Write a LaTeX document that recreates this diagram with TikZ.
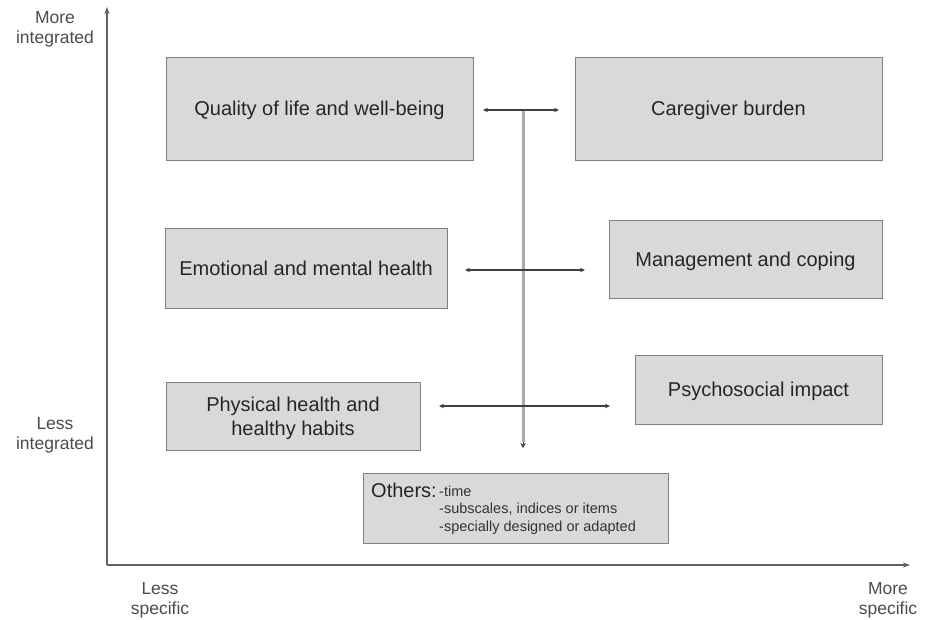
\documentclass[tikz,border=0pt]{standalone}
\usepackage{fontspec}
\setmainfont{Liberation Sans}
\usetikzlibrary{arrows.meta}
\definecolor{boxfill}{HTML}{D9D9D9}
\definecolor{boxline}{HTML}{808080}
\definecolor{axisline}{HTML}{606060}
\definecolor{arrline}{HTML}{404040}
\definecolor{vline}{HTML}{ABABAB}
\begin{document}
\begin{tikzpicture}[x=1pt,y=-1pt,
  cat/.style={draw=boxline,line width=1pt,fill=boxfill,inner sep=0pt,align=center,
    text depth=0pt,font=\fontsize{20}{24}\selectfont,text=black!85},
  axlabel/.style={align=center,font=\fontsize{17.5}{20}\selectfont,text=black!70},
  axisarrow/.style={draw=axisline,line width=1.3pt,-{Stealth[length=7pt,width=5pt]}},
  linkarrow/.style={draw=arrline,line width=1.1pt,{Stealth[length=5pt,width=4.5pt]}-{Stealth[length=5pt,width=4.5pt]}},
  vertbar/.style={draw=vline,line width=3pt},
  verttip/.style={draw=arrline,line width=0.8pt,-{Stealth[length=5pt,width=5.5pt]}}
]
\useasboundingbox (0,0) rectangle (929,619);
\fill[white] (0,0) rectangle (929,619);

% axes
\coordinate (origin) at (107,565);
\coordinate (ytop) at (107,7);
\coordinate (xend) at (910,565);
\draw[axisarrow] (origin) -- (ytop);
\draw[axisarrow] (origin) -- (xend);

\node[axlabel] (moreint) at (55,29) {More\\integrated};
\node[axlabel] (lessint) at (55,435) {Less\\integrated};
\node[axlabel] (lessspec) at (160,600) {Less\\specific};
\node[axlabel] (morespec) at (888,600) {More\\specific};

% category boxes
\node[cat,minimum width=307pt,minimum height=103pt] (qol) at (319.5,108.5) {Quality of life and well-being};
\node[cat,minimum width=307pt,minimum height=103pt] (care) at (728.5,108.5) {Caregiver burden};
\node[cat,minimum width=282pt,minimum height=80pt] (emo) at (306,268) {Emotional and mental health};
\node[cat,minimum width=273pt,minimum height=78pt] (mgmt) at (745.5,259) {Management and coping};
\node[cat,minimum width=254pt,minimum height=68pt] (phys) at (293,416) {Physical health and\\healthy habits};
\node[cat,minimum width=247pt,minimum height=69pt] (psy) at (758.5,389.5) {Psychosocial impact};

% others box
\node[cat,minimum width=305pt,minimum height=70pt] (others) at (515.5,508) {};
\node[anchor=base west,inner sep=0pt,font=\fontsize{20}{24}\selectfont,text=black!85] (otherslbl) at (371,497) {Others:};
\node[anchor=base west,inner sep=0pt,font=\fontsize{14.5}{17.5}\selectfont,text=black!80] (list1) at (439,496) {-time};
\node[anchor=base west,inner sep=0pt,font=\fontsize{14.5}{17.5}\selectfont,text=black!80] (list2) at (439,513.5) {-subscales, indices or items};
\node[anchor=base west,inner sep=0pt,font=\fontsize{14.5}{17.5}\selectfont,text=black!80] (list3) at (439,531) {-specially designed or adapted};

% central connectors
\coordinate (c1) at (523,110);
\coordinate (c2) at (523,270);
\coordinate (c3) at (523,406);
\coordinate (c4) at (523,448);
\coordinate (c4a) at (523,442);
\coordinate (l1) at (483,110);
\coordinate (r1) at (559,110);
\coordinate (l2) at (465,270);
\coordinate (r2) at (585,270);
\coordinate (l3) at (439,406);
\coordinate (r3) at (610,406);

\draw[vertbar] (c1) -- (c4a);
\draw[verttip] (c4a) -- (c4);
\draw[linkarrow] (l1) -- (r1);
\draw[linkarrow] (l2) -- (r2);
\draw[linkarrow] (l3) -- (r3);
\end{tikzpicture}
\end{document}
